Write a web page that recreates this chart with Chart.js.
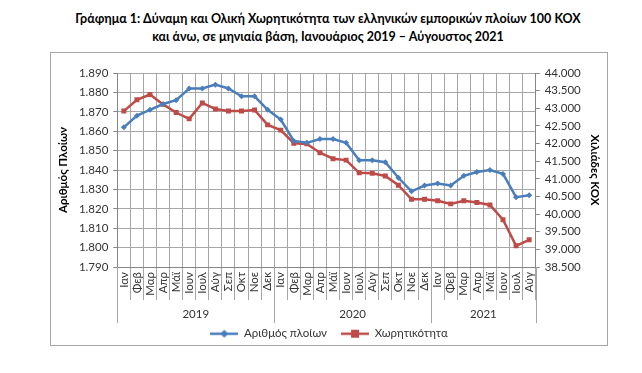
<!DOCTYPE html>
<html>
<head>
<meta charset="utf-8">
<script src="https://cdn.jsdelivr.net/npm/chart.js@4/dist/chart.umd.min.js"></script>
<style>
  body{margin:0;background:#fff;}
  #wrap{position:relative;width:642px;height:373px;}
  #title{position:absolute;left:0;top:10px;width:656px;text-align:center;font:bold 12.5px Lato;line-height:17.5px;color:#000;}
  canvas{position:absolute;left:0;top:0;}
  .edge{position:absolute;background:#a6a6a6;z-index:5;}
</style>
</head>
<body>
<div id="wrap">
  <div id="title">Γράφημα 1: Δύναμη και Ολική Χωρητικότητα των ελληνικών εμπορικών πλοίων 100 ΚΟΧ<br>και άνω, σε μηνιαία βάση, Ιανουάριος 2019 – Αύγουστος 2021</div>
  <canvas id="myChart" width="642" height="373"></canvas>
  <div class="edge" style="left:50px;top:52px;width:558px;height:1px;"></div>
  <div class="edge" style="left:50px;top:345px;width:558px;height:1px;"></div>
  <div class="edge" style="left:50px;top:52px;width:1px;height:294px;"></div>
  <div class="edge" style="left:607px;top:52px;width:1px;height:294px;"></div>
</div>
<script>
// data
var months = ['Ιαν','Φεβ','Μαρ','Απρ','Μάϊ','Ιουν','Ιουλ','Αύγ','Σεπ','Οκτ','Νοε','Δεκ',
              'Ιαν','Φεβ','Μαρ','Απρ','Μάϊ','Ιουν','Ιουλ','Αύγ','Σεπ','Οκτ','Νοε','Δεκ',
              'Ιαν','Φεβ','Μαρ','Απρ','Μάϊ','Ιουν','Ιουλ','Αύγ'];
var years = ['2019','2020','2021'];
var yearSpan = [12, 12, 8];
var ships = [1862,1868,1871,1874,1876,1882,1882,1884,1882,1878,1878,1871,
             1866,1855,1854,1856,1856,1854,1845,1845,1844,1836,1829,1832,
             1833,1832,1837,1839,1840,1838,1826,1827];
var tonnage = [42920,43240,43390,43110,42880,42700,43150,42980,42920,42920,42950,42530,
               42380,42010,41990,41740,41570,41530,41170,41160,41080,40820,40420,40420,
               40380,40290,40380,40330,40260,39840,39100,39270];

var blue = '#4a7ebb', red = '#be4b48';
var gridCol = '#a6a6a6', axisCol = '#868686', txt = '#333';

function fmt(v){
    var s = String(Math.round(v));
    return s.slice(0, -3) + '.' + s.slice(-3);
}

// legend sample: line with marker in the middle
function legendIcon(color, shape){
    var c = document.createElement('canvas');
    c.width = 28; c.height = 10;
    var g = c.getContext('2d');
    g.strokeStyle = color; g.lineWidth = 2.5;
    g.beginPath(); g.moveTo(0, 5); g.lineTo(28, 5); g.stroke();
    g.fillStyle = color;
    if(shape == 'rect'){
        g.fillRect(10, 1, 8, 8);
    }else{
        g.beginPath(); g.moveTo(14, 1); g.lineTo(18, 5); g.lineTo(14, 9); g.lineTo(10, 5); g.closePath(); g.fill();
    }
    return c;
}

// year row under the months
var yearRow = {
    id: 'yearRow',
    afterDraw: function(chart){
        var x = chart.scales.x, ctx = chart.ctx;
        var half = (x.getPixelForValue(1) - x.getPixelForValue(0)) / 2;
        var top = chart.chartArea.bottom;
        ctx.save();
        ctx.strokeStyle = gridCol; ctx.lineWidth = 1;
        ctx.fillStyle = txt; ctx.font = '11.5px Lato';
        ctx.textAlign = 'center'; ctx.textBaseline = 'middle';
        var start = 0;
        for(var g = 0; g < years.length; g++){
            var l = x.getPixelForValue(start) - half;
            var r = x.getPixelForValue(start + yearSpan[g] - 1) + half;
            var xs = [l];
            if(g == years.length - 1) xs.push(r);
            for(var k = 0; k < xs.length; k++){
                var px = Math.round(xs[k]) + 0.5;
                ctx.beginPath(); ctx.moveTo(px, top); ctx.lineTo(px, top + 56); ctx.stroke();
            }
            ctx.fillText(years[g], (l + r) / 2, top + 47);
            start += yearSpan[g];
        }
        ctx.restore();
    }
};

var myLine = new Chart(document.getElementById('myChart').getContext('2d'), {
    type: 'line',
    data: {
        labels: months,
        datasets: [{
            label: 'Αριθμός πλοίων',
            data: ships,
            yAxisID: 'y',
            borderColor: blue,
            backgroundColor: blue,
            borderWidth: 2.5,
            pointStyle: 'rectRot',
            pointRadius: 3,
            pointBorderWidth: 0,
            pointBackgroundColor: blue,
            tension: 0
        },{
            label: 'Χωρητικότητα',
            data: tonnage,
            yAxisID: 'y1',
            borderColor: red,
            backgroundColor: red,
            borderWidth: 2.5,
            pointStyle: 'rect',
            pointRadius: 3.5,
            pointBorderWidth: 0,
            pointBackgroundColor: red,
            tension: 0
        }]
    },
    options: {
        responsive: false,
        animation: false,
        layout: {padding: {left: 56, right: 40, top: 73, bottom: 23.5}},
        plugins: {
            title: {display: false},
            tooltip: {enabled: false},
            legend: {
                position: 'bottom',
                labels: {
                    font: {family: 'Lato', size: 11.5},
                    color: txt,
                    usePointStyle: true,
                    pointStyleWidth: 28,
                    padding: 14,
                    generateLabels: function(chart){
                        return chart.data.datasets.map(function(ds, i){
                            return {
                                text: ds.label,
                                fontColor: txt,
                                pointStyle: legendIcon(ds.borderColor, i == 0 ? 'rectRot' : 'rect'),
                                datasetIndex: i,
                                hidden: false,
                                lineWidth: 0
                            };
                        });
                    }
                }
            }
        },
        scales: {
            x: {
                offset: true,
                grid: {offset: true, color: gridCol, tickColor: gridCol, tickLength: 33},
                border: {color: axisCol},
                ticks: {
                    autoSkip: false, minRotation: 90, maxRotation: 90,
                    padding: -28,
                    font: {family: 'Lato', size: 11.5}, color: txt
                },
                afterFit: function(s){ s.height = 47; }
            },
            y: {
                position: 'left',
                min: 1790, max: 1890,
                grid: {color: gridCol, tickColor: axisCol, tickLength: 4},
                border: {color: axisCol},
                ticks: {stepSize: 10, padding: 5, font: {family: 'Lato', size: 11.5}, color: txt,
                        callback: function(v){ return fmt(v); }},
                title: {display: true, text: 'Αριθμός Πλοίων', color: '#000', padding: 0,
                        font: {family: 'Lato', size: 11.5, weight: 'bold'}},
                afterFit: function(s){ s.width = 61.3; }
            },
            y1: {
                position: 'right',
                min: 38500, max: 44000,
                grid: {drawOnChartArea: false, tickColor: axisCol, tickLength: 4},
                border: {color: axisCol},
                ticks: {stepSize: 500, padding: 5, font: {family: 'Lato', size: 11.5}, color: txt,
                        callback: function(v){ return fmt(v); }},
                title: {display: true, text: 'Χιλιάδες ΚΟΧ', color: '#000', padding: 0,
                        font: {family: 'Lato', size: 11.5, weight: 'bold'}},
                afterFit: function(s){ s.width = 66.3; }
            }
        }
    },
    plugins: [yearRow]
});
</script>
</body>
</html>
